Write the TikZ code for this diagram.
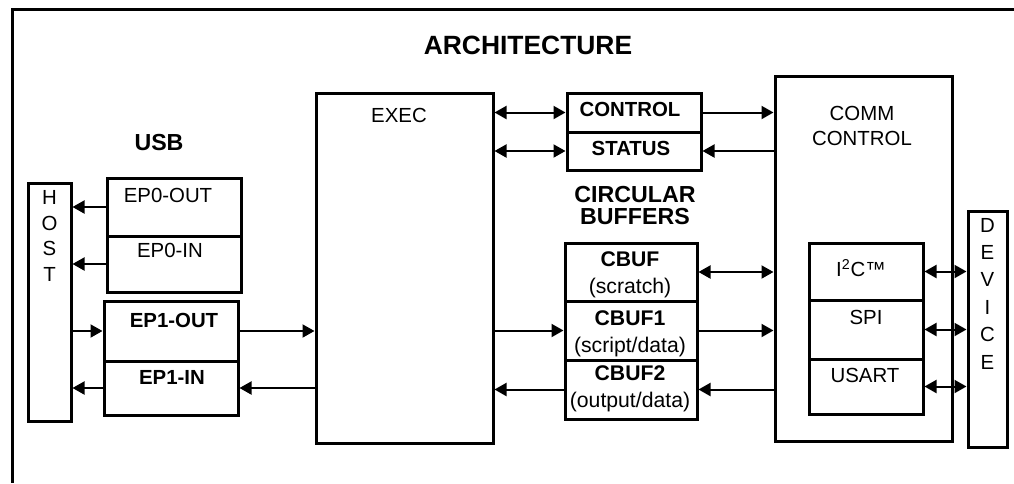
\documentclass[tikz,border=0pt]{standalone}
\usepackage{fontspec}
\setmainfont{Liberation Sans}
\usetikzlibrary{arrows.meta}

\begin{document}
\begin{tikzpicture}[
        x=0.5pt, y=-0.5pt,
        >={Triangle[length=6pt,width=6.5pt]},
        every node/.style={font=\fontsize{10.2}{12}\selectfont, inner sep=0pt},
        kasten/.style={draw, line width=1.5pt, inner sep=0pt},
        fett/.style={font=\fontsize{10.2}{12}\selectfont\bfseries},
        titel/.style={font=\fontsize{11.6}{11.2}\selectfont\bfseries, align=center},
        senkrecht/.style={align=center, font=\fontsize{10.2}{#1}\selectfont},
        puffer/.style={align=center, font=\fontsize{10.6}{13.5}\selectfont},
        pfeil/.style={draw, line width=1pt, ->},
        doppel/.style={draw, line width=1pt, <->}
    ]
        \useasboundingbox (0,0) rectangle (1014,483);
        \draw[line width=1.5pt] (1014,9) -- (12,9) -- (12,483);
        \node[font=\fontsize{13.2}{14}\selectfont\bfseries] (arch) at (528,45) {ARCHITECTURE};

        \node[kasten, minimum width=21.5pt, minimum height=119pt] (host) at (49.5,302) {};
        \node[senkrecht=12.7pt] (hosttxt) at (49.5,236) {H\\O\\S\\T};

        \node[titel] (usb) at (159,143) {USB};
        \node[kasten, minimum width=67pt, minimum height=29pt] (ep0out) at (174,207) {};
        \node[kasten, minimum width=67pt, minimum height=28pt] (ep0in)  at (174,264) {};
        \node (ep0outtxt) at (168,195) {EP0-OUT};
        \node (ep0intxt)  at (170,250) {EP0-IN};
        \node[kasten, minimum width=67pt, minimum height=30pt] (ep1out) at (171,331) {};
        \node[kasten, minimum width=67pt, minimum height=27pt] (ep1in)  at (171,388) {};
        \node[fett] (ep1outtxt) at (174,320) {EP1-OUT};
        \node[fett] (ep1intxt)  at (172,377) {EP1-IN};

        \node[kasten, minimum width=88.5pt, minimum height=175pt] (exec) at (404.5,268) {};
        \node (exectxt) at (399,115) {EXEC};

        \node[kasten, minimum width=67pt, minimum height=19.5pt] (ctrl)   at (634,112.5) {};
        \node[kasten, minimum width=67pt, minimum height=19pt]   (status) at (634,151) {};
        \node[fett] (ctrltxt)   at (630,109) {CONTROL};
        \node[fett] (statustxt) at (631,148) {STATUS};

        \node[titel] (cbuftitel) at (635,205.5) {CIRCULAR\\BUFFERS};
        \node[kasten, minimum width=66pt, minimum height=29pt]   (cbuf)  at (631,272) {};
        \node[kasten, minimum width=66pt, minimum height=29.5pt] (cbuf1) at (631,330.5) {};
        \node[kasten, minimum width=66pt, minimum height=29.5pt] (cbuf2) at (631,389.5) {};
        \node[puffer] (cbuftxt)  at (630,275)   {\textbf{CBUF}\\(scratch)};
        \node[puffer] (cbuf1txt) at (630,333.5) {\textbf{CBUF1}\\(script/data)};
        \node[puffer] (cbuf2txt) at (630,388.5) {\textbf{CBUF2}\\(output/data)};

        \node[kasten, minimum width=88.5pt, minimum height=182.5pt] (comm) at (863.5,258.5) {};
        \node[senkrecht=12.5pt] (commtxt) at (862,125.5) {COMM\\CONTROL};
        \node[kasten, minimum width=57pt, minimum height=28.5pt] (i2c)   at (866,271.5) {};
        \node[kasten, minimum width=57pt, minimum height=29.5pt] (spi)   at (866,329.5) {};
        \node[kasten, minimum width=57pt, minimum height=27.5pt] (usart) at (866,386.5) {};
        \node (i2ctxt)   at (861,268) {I\textsuperscript{2}C™};
        \node (spitxt)   at (866,317) {SPI};
        \node (usarttxt) at (865,375) {USART};

        \node[kasten, minimum width=19.5pt, minimum height=118pt] (device) at (987.5,329) {};
        \node[senkrecht=13.7pt] (devicetxt) at (987.5,293.5) {D\\E\\V\\I\\C\\E};

        \draw[pfeil] (ep0out.west) -- (ep0out.west -| host.east);
        \draw[pfeil] (ep0in.west) -- (ep0in.west -| host.east);
        \draw[pfeil] (ep1out.west -| host.east) -- (ep1out.west);
        \draw[pfeil] (ep1in.west) -- (ep1in.west -| host.east);
        \draw[pfeil] (ep1out.east) -- (ep1out.east -| exec.west);
        \draw[pfeil] (ep1in.east -| exec.west) -- (ep1in.east);

        \draw[doppel] (ctrl.west -| exec.east) -- (ctrl.west);
        \draw[doppel] (status.west -| exec.east) -- (status.west);
        \draw[pfeil] (ctrl.east) -- (ctrl.east -| comm.west);
        \draw[pfeil] (status.east -| comm.west) -- (status.east);

        \draw[pfeil] (cbuf1.west -| exec.east) -- (cbuf1.west);
        \draw[pfeil] (cbuf2.west) -- (cbuf2.west -| exec.east);
        \draw[doppel] (cbuf.east) -- (cbuf.east -| comm.west);
        \draw[pfeil] (cbuf1.east) -- (cbuf1.east -| comm.west);
        \draw[pfeil] (cbuf2.east -| comm.west) -- (cbuf2.east);

        \draw[doppel] (i2c.east) -- (i2c.east -| device.west);
        \draw[doppel] (spi.east) -- (spi.east -| device.west);
        \draw[doppel] (usart.east) -- (usart.east -| device.west);
\end{tikzpicture}
\end{document}
